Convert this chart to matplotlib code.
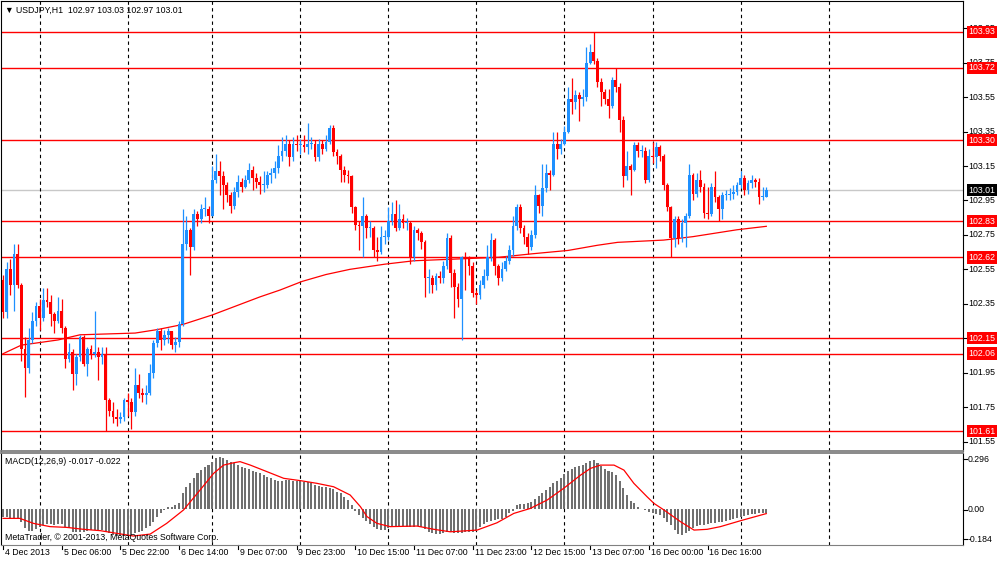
import matplotlib
matplotlib.use("Agg")
import matplotlib.pyplot as plt
import numpy as np
from matplotlib.transforms import blended_transform_factory

plt.rcParams['font.family'] = ['Liberation Sans', 'DejaVu Sans']

# USDJPY H1, one candle per hour from 4 Dec 2013 14:00
first_open = 102.49
closes = [102.30, 102.55, 102.46, 102.64, 102.46, 102.09, 101.98, 102.14, 102.25, 102.34,
          102.27, 102.37, 102.36, 102.29, 102.25, 102.31, 102.21, 102.03, 102.07, 101.94,
          102.04, 102.16, 102.00, 102.09, 102.06, 102.07, 102.04, 102.06, 101.79, 101.73,
          101.69, 101.68, 101.69, 101.79, 101.78, 101.72, 101.88, 101.83, 101.82, 101.83,
          101.95, 102.12, 102.19, 102.14, 102.17, 102.19, 102.11, 102.13, 102.23, 102.70,
          102.78, 102.68, 102.87, 102.84, 102.90, 102.90, 102.86, 103.07, 103.12, 103.09,
          103.04, 102.98, 102.92, 103.00, 103.06, 103.03, 103.07, 103.13, 103.08, 103.06,
          103.04, 103.04, 103.10, 103.11, 103.14, 103.21, 103.24, 103.28, 103.20, 103.28,
          103.27, 103.27, 103.26, 103.28, 103.28, 103.20, 103.28, 103.25, 103.29, 103.37,
          103.23, 103.21, 103.13, 103.10, 103.09, 102.91, 102.81, 102.80, 102.86, 102.79,
          102.79, 102.66, 102.65, 102.74, 102.74, 102.83, 102.87, 102.79, 102.84, 102.82,
          102.82, 102.62, 102.78, 102.76, 102.71, 102.50, 102.50, 102.46, 102.51, 102.50,
          102.57, 102.73, 102.53, 102.45, 102.38, 102.62, 102.61, 102.57, 102.41, 102.40,
          102.46, 102.51, 102.62, 102.72, 102.57, 102.50, 102.55, 102.60, 102.66, 102.80,
          102.91, 102.79, 102.74, 102.68, 102.75, 102.98, 102.92, 103.02, 103.11, 103.10,
          103.28, 103.25, 103.28, 103.35, 103.54, 103.52, 103.56, 103.54, 103.55, 103.75,
          103.81, 103.76, 103.64, 103.58, 103.54, 103.50, 103.65, 103.61, 103.42, 103.09,
          103.15, 103.13, 103.27, 103.24, 103.24, 103.07, 103.21, 103.20, 103.26, 103.21,
          103.04, 102.91, 102.73, 102.84, 102.73, 102.82, 102.86, 103.10, 102.99, 103.07,
          103.03, 102.88, 102.87, 103.03, 102.97, 102.90, 102.98, 102.98, 102.99, 103.00,
          103.04, 103.08, 103.01, 103.05, 103.07, 103.06, 102.97, 102.97, 103.01]
highs = [102.52, 102.59, 102.61, 102.70, 102.70, 102.47, 102.16, 102.21, 102.30, 102.36,
         102.38, 102.44, 102.44, 102.40, 102.30, 102.39, 102.38, 102.22, 102.12, 102.09,
         102.06, 102.17, 102.17, 102.10, 102.11, 102.31, 102.10, 102.10, 102.10, 101.80,
         101.78, 101.74, 101.72, 101.80, 101.83, 101.80, 101.98, 101.94, 101.86, 101.88,
         102.00, 102.14, 102.21, 102.21, 102.20, 102.21, 102.19, 102.16, 102.25, 102.90,
         102.86, 102.79, 102.90, 102.89, 102.93, 102.97, 102.92, 103.15, 103.22, 103.18,
         103.12, 103.06, 103.00, 103.03, 103.10, 103.08, 103.10, 103.17, 103.15, 103.11,
         103.09, 103.12, 103.12, 103.14, 103.18, 103.27, 103.32, 103.33, 103.30, 103.32,
         103.33, 103.31, 103.33, 103.40, 103.32, 103.30, 103.31, 103.30, 103.33, 103.39,
         103.39, 103.25, 103.22, 103.15, 103.13, 103.10, 102.92, 102.83, 102.97, 102.87,
         102.83, 102.80, 102.74, 102.80, 102.78, 102.91, 102.94, 102.95, 102.93, 102.87,
         102.85, 102.83, 102.80, 102.79, 102.77, 102.72, 102.55, 102.52, 102.53, 102.54,
         102.60, 102.76, 102.75, 102.55, 102.47, 102.63, 102.65, 102.63, 102.59, 102.43,
         102.49, 102.55, 102.69, 102.76, 102.73, 102.58, 102.59, 102.63, 102.69, 102.86,
         102.93, 102.93, 102.81, 102.76, 102.78, 103.04, 102.99, 103.16, 103.16, 103.13,
         103.35, 103.35, 103.31, 103.38, 103.61, 103.66, 103.59, 103.58, 103.60, 103.84,
         103.86, 103.93, 103.78, 103.66, 103.60, 103.60, 103.67, 103.72, 103.63, 103.44,
         103.24, 103.16, 103.29, 103.29, 103.27, 103.26, 103.25, 103.29, 103.29, 103.27,
         103.22, 103.05, 102.92, 102.86, 102.86, 102.84, 102.88, 103.16, 103.11, 103.11,
         103.13, 103.05, 103.03, 103.05, 103.12, 102.98, 103.00, 103.01, 103.02, 103.04,
         103.06, 103.12, 103.10, 103.07, 103.10, 103.08, 103.08, 103.03, 103.03]
lows = [102.27, 102.27, 102.40, 102.31, 102.44, 102.02, 101.81, 101.95, 102.12, 102.22,
        102.20, 102.25, 102.33, 102.22, 102.18, 102.24, 102.18, 101.98, 102.01, 101.85,
        101.88, 102.02, 101.99, 101.93, 102.03, 102.04, 101.91, 102.00, 101.61, 101.70,
        101.66, 101.64, 101.66, 101.67, 101.70, 101.62, 101.70, 101.80, 101.78, 101.77,
        101.82, 101.92, 102.10, 102.08, 102.11, 102.12, 102.09, 102.07, 102.10, 102.22,
        102.66, 102.52, 102.66, 102.80, 102.82, 102.86, 102.82, 102.86, 103.05, 102.98,
        102.90, 102.94, 102.88, 102.90, 102.97, 103.00, 103.02, 103.05, 103.01, 103.02,
        102.99, 103.00, 103.02, 103.05, 103.08, 103.11, 103.18, 103.21, 103.15, 103.18,
        103.24, 103.22, 103.23, 103.22, 103.25, 103.18, 103.18, 103.22, 103.24, 103.28,
        103.21, 103.16, 103.06, 103.06, 103.05, 102.88, 102.78, 102.66, 102.62, 102.73,
        102.74, 102.62, 102.60, 102.64, 102.70, 102.72, 102.81, 102.77, 102.78, 102.79,
        102.78, 102.58, 102.60, 102.72, 102.67, 102.39, 102.41, 102.41, 102.43, 102.47,
        102.47, 102.55, 102.45, 102.27, 102.33, 102.14, 102.43, 102.52, 102.39, 102.35,
        102.38, 102.44, 102.49, 102.60, 102.52, 102.46, 102.48, 102.54, 102.58, 102.63,
        102.78, 102.76, 102.70, 102.64, 102.66, 102.73, 102.88, 102.86, 103.00, 103.01,
        103.09, 103.19, 103.22, 103.27, 103.34, 103.45, 103.48, 103.41, 103.50, 103.53,
        103.74, 103.74, 103.61, 103.50, 103.51, 103.43, 103.49, 103.58, 103.35, 103.03,
        103.07, 102.98, 103.12, 103.20, 103.20, 103.05, 103.06, 103.17, 103.14, 103.18,
        103.01, 102.89, 102.62, 102.68, 102.70, 102.71, 102.68, 102.85, 102.95, 102.97,
        103.00, 102.85, 102.84, 102.86, 102.94, 102.83, 102.84, 102.95, 102.95, 102.96,
        102.98, 103.02, 102.98, 102.99, 103.02, 103.03, 102.93, 102.95, 102.97]

# moving average (red curve), read at some bars
ma_bars = [0, 5, 15, 21, 36, 42, 49, 57, 70, 75.5, 81.5, 88, 94.5, 104, 112, 135,
           144, 154, 162, 167.5, 180, 188, 200, 208]
ma_vals = [102.06, 102.11, 102.14, 102.17, 102.18, 102.20, 102.23, 102.285, 102.39, 102.43,
           102.48, 102.52, 102.55, 102.58, 102.60, 102.62, 102.64, 102.66, 102.69, 102.707,
           102.72, 102.74, 102.78, 102.80]

# MACD(12,26,9) histogram, one value per candle
macd_hist = [-0.038, -0.038, -0.043, -0.047, -0.047, -0.064, -0.099, -0.111, -0.113, -0.104,
             -0.094, -0.082, -0.077, -0.077, -0.082, -0.077, -0.077, -0.090, -0.099, -0.117,
             -0.120, -0.117, -0.117, -0.113, -0.108, -0.108, -0.108, -0.108, -0.117, -0.125,
             -0.134, -0.139, -0.139, -0.139, -0.137, -0.134, -0.125, -0.120, -0.113, -0.099,
             -0.087, -0.064, -0.038, -0.017, -0.003, 0.010, 0.014, 0.023, 0.035, 0.083,
             0.118, 0.136, 0.162, 0.188, 0.205, 0.223, 0.231, 0.249, 0.266, 0.271,
             0.266, 0.257, 0.249, 0.240, 0.231, 0.223, 0.214, 0.209, 0.202, 0.195,
             0.188, 0.179, 0.170, 0.162, 0.153, 0.148, 0.150, 0.153, 0.153, 0.150,
             0.150, 0.150, 0.144, 0.141, 0.136, 0.127, 0.122, 0.118, 0.115, 0.110,
             0.104, 0.092, 0.083, 0.066, 0.049, 0.023, -0.007, -0.030, -0.047, -0.059,
             -0.077, -0.094, -0.104, -0.108, -0.108, -0.099, -0.094, -0.087, -0.087, -0.087,
             -0.090, -0.094, -0.094, -0.087, -0.090, -0.104, -0.117, -0.125, -0.129, -0.129,
             -0.125, -0.117, -0.117, -0.122, -0.125, -0.122, -0.117, -0.117, -0.117, -0.111,
             -0.094, -0.077, -0.064, -0.059, -0.056, -0.052, -0.050, -0.038, -0.021, -0.009,
             0.023, 0.028, 0.028, 0.031, 0.040, 0.052, 0.070, 0.083, 0.101, 0.118,
             0.136, 0.148, 0.162, 0.184, 0.200, 0.210, 0.219, 0.226, 0.233, 0.243,
             0.254, 0.257, 0.243, 0.226, 0.210, 0.202, 0.197, 0.179, 0.150, 0.110,
             0.075, 0.045, 0.031, 0.014, 0.003, -0.005, -0.014, -0.019, -0.023, -0.030,
             -0.045, -0.064, -0.083, -0.108, -0.129, -0.136, -0.125, -0.111, -0.097, -0.089,
             -0.083, -0.082, -0.077, -0.073, -0.070, -0.068, -0.064, -0.063, -0.057, -0.052,
             -0.047, -0.038, -0.035, -0.030, -0.024, -0.023, -0.021, -0.019, -0.017]
sig_bars = [0, 4.6, 8.3, 12.8, 17.4, 21.9, 26.5, 31, 35.5, 40.1, 44.6, 49.2, 53.7, 57.4,
            60.1, 62.8, 64.6, 67.4, 71.9, 76.5, 81, 85.5, 90.1, 94.6, 97.4, 99.2, 101.9,
            105.5, 112.8, 117.4, 121.9, 129.2, 134.6, 139.2, 143.7, 148.3, 152.8, 157.4,
            160.1, 162.8, 166.5, 169.2, 171.9, 175.5, 177.4, 180.1, 184.6, 188.3, 191.9,
            195.5, 201, 208]
sig_vals = [-0.047, -0.047, -0.073, -0.090, -0.094, -0.104, -0.111, -0.125, -0.139, -0.129,
            -0.073, -0.003, 0.101, 0.188, 0.231, 0.243, 0.249, 0.231, 0.197, 0.162,
            0.150, 0.136, 0.118, 0.075, 0.014, -0.038, -0.073, -0.090, -0.087, -0.104,
            -0.117, -0.108, -0.070, -0.021, 0.005, 0.049, 0.110, 0.179, 0.214, 0.231,
            0.231, 0.205, 0.136, 0.066, 0.031, -0.003, -0.064, -0.108, -0.104, -0.090,
            -0.059, -0.022]

levels = [103.93, 103.72, 103.30, 102.83, 102.62, 102.15, 102.06, 101.61]
last_price = 103.01
price_ticks = [101.55, 101.75, 101.95, 102.15, 102.35, 102.55, 102.75, 102.95,
               103.15, 103.35, 103.55, 103.75, 103.95]
grid_bars = [10, 34, 57, 81, 105, 129, 153, 177, 201, 225]
time_bars = [0, 16, 32, 48, 64, 80, 96, 112, 128, 144, 160, 176, 192]
time_labels = ["4 Dec 2013", "5 Dec 06:00", "5 Dec 22:00", "6 Dec 14:00", "9 Dec 07:00",
               "9 Dec 23:00", "10 Dec 15:00", "11 Dec 07:00", "11 Dec 23:00",
               "12 Dec 15:00", "13 Dec 07:00", "16 Dec 00:00", "16 Dec 16:00"]

BLUE = '#1E90FF'
RED = '#FF0000'
FS = 6.3

fig = plt.figure(figsize=(10, 5.62), dpi=100)
ax = fig.add_axes([0.001, 0.1975, 0.962, 0.8005])
ax2 = fig.add_axes([0.001, 0.0302, 0.962, 0.1637])

# candles
c = np.array(closes)
o = np.array([first_open] + closes[:-1])
n = np.arange(len(c))
cols = np.where(c >= o, BLUE, RED)
ax.vlines(n, lows, highs, colors=cols, lw=0.9, zorder=3)
ax.bar(n, np.maximum(np.abs(c - o), 0.006), bottom=np.minimum(o, c), width=0.76,
       color=cols, lw=0, zorder=3)

for lv in levels:
    ax.axhline(lv, color=RED, lw=1, zorder=2)
ax.axhline(last_price, color='#c8c8c8', lw=1, zorder=1)
ax.plot(ma_bars, ma_vals, color=RED, lw=0.9, zorder=2)

# MACD
ax2.bar(n, macd_hist, width=0.55, color='#707070', lw=0, zorder=2)
ax2.plot(sig_bars, sig_vals, color=RED, lw=0.9, zorder=3)

for a in (ax, ax2):
    a.set_xlim(-0.545, 261.6)
    a.set_xticks([])
    a.set_yticks([])
    for g in grid_bars:
        a.axvline(g, color='black', lw=0.8, ls=(0, (3, 3)), zorder=1)
    for s in a.spines.values():
        s.set_color('black')
        s.set_linewidth(0.8)
ax.set_ylim(101.495, 104.108)
ax2.set_ylim(-0.186, 0.294)
ax.spines['bottom'].set_color('#808080')
ax.spines['bottom'].set_linewidth(1.3)
ax2.spines['top'].set_color('#808080')
ax2.spines['top'].set_linewidth(1.3)
ax2.spines['bottom'].set_color('#808080')

# right price scale
tr = blended_transform_factory(ax.transAxes, ax.transData)
for p in price_ticks:
    ax.plot([1.0, 1.004], [p, p], transform=tr, color='black', lw=0.8, clip_on=False)
    ax.text(1.0055, p, f"{p:.2f}", transform=tr, fontsize=FS, va='center', ha='left')
for lv in levels:
    ax.text(1.0055, lv, f"{lv:.2f}", transform=tr, fontsize=FS, va='center', ha='left',
            color='white', zorder=5,
            bbox=dict(boxstyle='square,pad=0.2', fc=RED, ec='none'))
ax.text(1.0055, last_price, f"{last_price:.2f}", transform=tr, fontsize=FS, va='center',
        ha='left', color='white', zorder=5,
        bbox=dict(boxstyle='square,pad=0.2', fc='black', ec='none'))

# MACD scale labels
for yy, lab in [(0.935, "0.296"), (0.386, "0.00"), (0.065, "-0.184")]:
    ax2.plot([1.0, 1.004], [yy, yy], transform=ax2.transAxes, color='black', lw=0.8,
             clip_on=False)
    ax2.text(1.0045, yy, lab, transform=ax2.transAxes, fontsize=FS, va='center', ha='left')

# time axis
tr2 = blended_transform_factory(ax2.transData, ax2.transAxes)
for b, lab in zip(time_bars, time_labels):
    ax2.plot([b, b], [0, -0.045], transform=tr2, color='black', lw=0.8, clip_on=False)
    ax2.text(b + 0.5, -0.03, lab, transform=tr2, fontsize=FS, va='top', ha='left')

fig.text(0.005, 1 - 10 / 562, "\u25bc USDJPY,H1  102.97 103.03 102.97 103.01",
         fontsize=FS, va='center', ha='left')
fig.text(0.005, 1 - 461 / 562, "MACD(12,26,9) -0.017 -0.022", fontsize=FS,
         va='center', ha='left')
fig.text(0.005, 1 - 538 / 562, "MetaTrader, \u00a9 2001-2013, MetaQuotes Software Corp.",
         fontsize=FS, va='center', ha='left')

fig.savefig("out.png", dpi=100)
